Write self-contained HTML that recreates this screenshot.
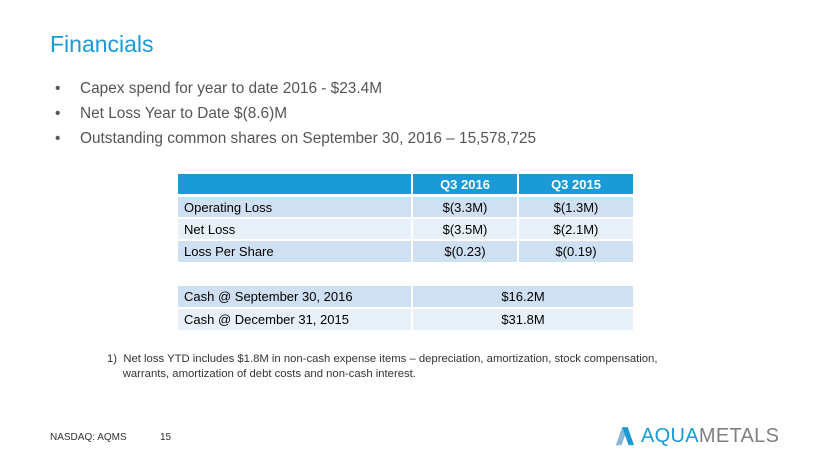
<!DOCTYPE html>
<html><head><meta charset="utf-8"><style>
body{margin:0;width:820px;height:461px;background:#fff;position:relative;overflow:hidden;font-family:"Liberation Sans",Arial,sans-serif}
.a{position:absolute;white-space:nowrap}
.c{position:absolute;display:flex;align-items:center;box-sizing:border-box}
.b{position:absolute;font-size:15.4px;color:#555;white-space:nowrap}
</style></head><body>
<div class="a" style="left:50px;top:31px;font-size:23px;color:#1a9ad6">Financials</div>
<div class="b" style="left:55px;top:80px">•</div><div class="b" style="left:80px;top:80px">Capex spend for year to date 2016 - $23.4M</div>
<div class="b" style="left:55px;top:105px">•</div><div class="b" style="left:80px;top:105px">Net Loss Year to Date $(8.6)M</div>
<div class="b" style="left:55px;top:130px">•</div><div class="b" style="left:80px;top:130px">Outstanding common shares on September 30, 2016 – 15,578,725</div>

<div class="c" style="left:178px;top:174px;width:233px;height:20px;background:#1a9ad6"></div>
<div class="c" style="left:413px;top:174px;width:104px;height:20px;background:#1a9ad6;justify-content:center;color:#fff;font-weight:bold;font-size:13px">Q3 2016</div>
<div class="c" style="left:519px;top:174px;width:114px;height:20px;background:#1a9ad6;justify-content:center;color:#fff;font-weight:bold;font-size:13px">Q3 2015</div>

<div class="c" style="left:178px;top:197px;width:233px;height:20px;background:#cfe0f3;padding-left:6px;font-size:13px">Operating Loss</div>
<div class="c" style="left:413px;top:197px;width:104px;height:20px;background:#cfe0f3;justify-content:center;font-size:13px">$(3.3M)</div>
<div class="c" style="left:519px;top:197px;width:114px;height:20px;background:#cfe0f3;justify-content:center;font-size:13px">$(1.3M)</div>

<div class="c" style="left:178px;top:219px;width:233px;height:20px;background:#e8f0fa;padding-left:6px;font-size:13px">Net Loss</div>
<div class="c" style="left:413px;top:219px;width:104px;height:20px;background:#e8f0fa;justify-content:center;font-size:13px">$(3.5M)</div>
<div class="c" style="left:519px;top:219px;width:114px;height:20px;background:#e8f0fa;justify-content:center;font-size:13px">$(2.1M)</div>

<div class="c" style="left:178px;top:241px;width:233px;height:21px;background:#cfe0f3;padding-left:6px;font-size:13px">Loss Per Share</div>
<div class="c" style="left:413px;top:241px;width:104px;height:21px;background:#cfe0f3;justify-content:center;font-size:13px">$(0.23)</div>
<div class="c" style="left:519px;top:241px;width:114px;height:21px;background:#cfe0f3;justify-content:center;font-size:13px">$(0.19)</div>

<div class="c" style="left:178px;top:286px;width:233px;height:21px;background:#cfe0f3;padding-left:6px;font-size:13px">Cash @ September 30, 2016</div>
<div class="c" style="left:413px;top:286px;width:220px;height:21px;background:#cfe0f3;justify-content:center;font-size:13px">$16.2M</div>
<div class="c" style="left:178px;top:309px;width:233px;height:21px;background:#e8f0fa;padding-left:6px;font-size:13px">Cash @ December 31, 2015</div>
<div class="c" style="left:413px;top:309px;width:220px;height:21px;background:#e8f0fa;justify-content:center;font-size:13px">$31.8M</div>

<div class="a" style="left:107px;top:352px;font-size:11.3px;color:#333;line-height:15px">1)&nbsp; Net loss YTD includes $1.8M in non-cash expense items – depreciation, amortization, stock compensation,<br>&nbsp;&nbsp;&nbsp;&nbsp;&nbsp;warrants, amortization of debt costs and non-cash interest.</div>

<div class="a" style="left:50px;top:432px;font-size:10px;color:#333">NASDAQ: AQMS</div>
<div class="a" style="left:160px;top:432px;font-size:10px;color:#333">15</div>

<svg class="a" style="left:616px;top:427px" width="18" height="20" viewBox="0 0 20 22"><path d="M7 0 L13 0 L20 20 L14 20 L10 9 L6 20 L0 20 Z" fill="#1a9ad6"/><path d="M7 0 L10 9 L6 20 L0 20Z" fill="#8ab8d8"/></svg>
<div class="a" style="left:641px;top:425px;font-size:20px;letter-spacing:0.3px"><span style="color:#1a9ad6">AQUA</span><span style="color:#808080">METALS</span></div>
</body></html>
